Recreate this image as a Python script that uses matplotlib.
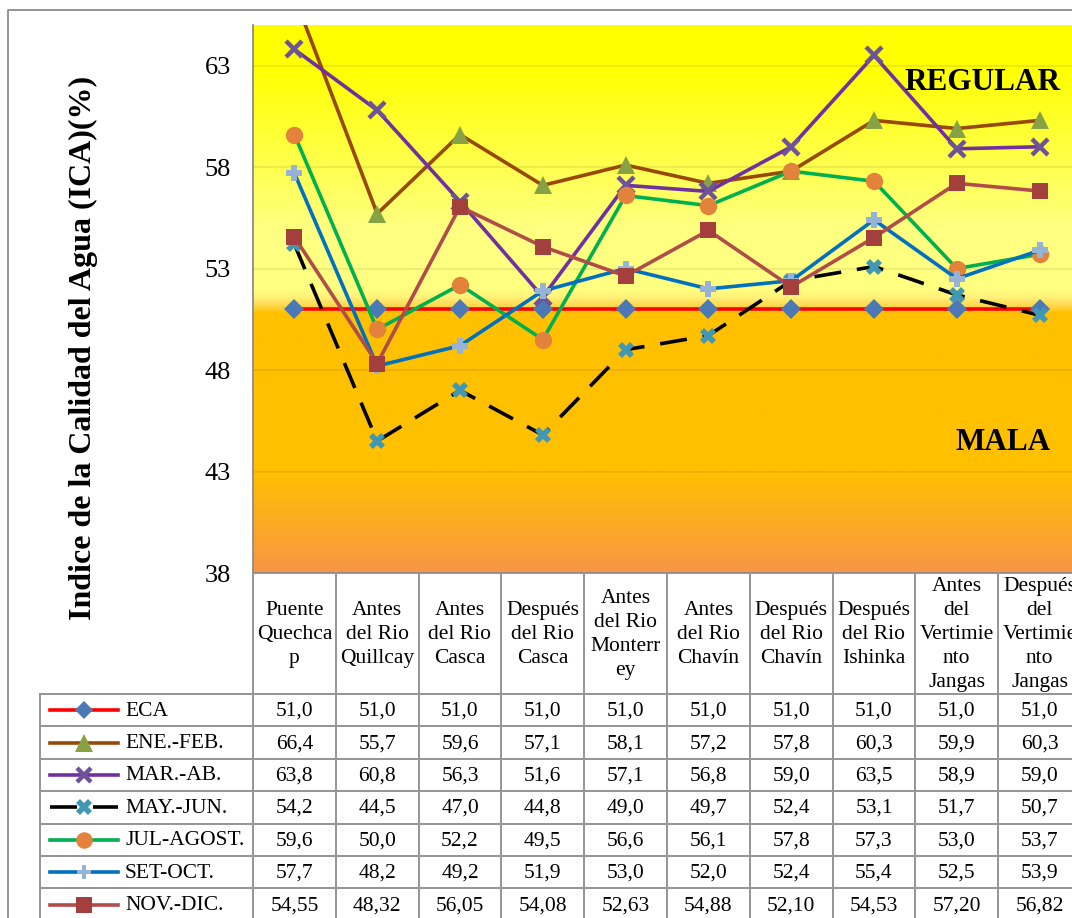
import matplotlib.pyplot as plt
import numpy as np
from matplotlib.colors import LinearSegmentedColormap, to_rgb
from matplotlib.lines import Line2D

# Puntos de muestreo a lo largo del rio
puntos = ['Puente\nQuechca\np', 'Antes\ndel Rio\nQuillcay', 'Antes\ndel Rio\nCasca',
          'Después\ndel Rio\nCasca', 'Antes\ndel Rio\nMonterr\ney', 'Antes\ndel Rio\nChavín',
          'Después\ndel Rio\nChavín', 'Después\ndel Rio\nIshinka',
          'Antes\ndel\nVertimie\nnto\nJangas', 'Después\ndel\nVertimie\nnto\nJangas']

series = ['ECA', 'ENE.-FEB.', 'MAR.-AB.', 'MAY.-JUN.', 'JUL-AGOST.', 'SET-OCT.', 'NOV.-DIC.']

eca = [51.0, 51.0, 51.0, 51.0, 51.0, 51.0, 51.0, 51.0, 51.0, 51.0]
ene_feb = [66.4, 55.7, 59.6, 57.1, 58.1, 57.2, 57.8, 60.3, 59.9, 60.3]
mar_ab = [63.8, 60.8, 56.3, 51.6, 57.1, 56.8, 59.0, 63.5, 58.9, 59.0]
may_jun = [54.2, 44.5, 47.0, 44.8, 49.0, 49.7, 52.4, 53.1, 51.7, 50.7]
jul_agost = [59.6, 50.0, 52.2, 49.5, 56.6, 56.1, 57.8, 57.3, 53.0, 53.7]
set_oct = [57.7, 48.2, 49.2, 51.9, 53.0, 52.0, 52.4, 55.4, 52.5, 53.9]
nov_dic = [54.55, 48.32, 56.05, 54.08, 52.63, 54.88, 52.10, 54.53, 57.20, 56.82]
decimales = [1, 1, 1, 1, 1, 1, 2]

valores = [eca, ene_feb, mar_ab, may_jun, jul_agost, set_oct, nov_dic]

# estilo de cada serie: color linea, marcador, color marcador, tamaño, grosor borde
estilos = [
    dict(color='#FF0000', marker='D', mfc='#4A79B5', mec='#4A79B5', ms=10, mew=0, ls='-'),
    dict(color='#984807', marker='^', mfc='#86A244', mec='#86A244', ms=13, mew=0, ls='-'),
    dict(color='#7030A0', marker='x', mfc='#6E5399', mec='#6E5399', ms=11, mew=3.2, ls='-'),
    dict(color='#000000', marker='X', mfc='#4198B5', mec='#4198B5', ms=12, mew=0, ls='--'),
    dict(color='#00B050', marker='o', mfc='#E3823A', mec='#E3823A', ms=12.5, mew=0, ls='-'),
    dict(color='#0070C0', marker='P', mfc='#95B3D7', mec='#95B3D7', ms=11, mew=0, ls='-'),
    dict(color='#B04C4A', marker='s', mfc='#A3403E', mec='#A3403E', ms=12, mew=0, ls='-'),
]

plt.rcParams['font.family'] = ['Liberation Serif', 'DejaVu Serif']

W, H = 1072, 918
fig = plt.figure(figsize=(W / 100, H / 100), dpi=100)

# area de grafico (en pixeles)
x0, x1, ytop, ybot = 253, 1081, 25, 573
ax = fig.add_axes([x0 / W, (H - ybot) / H, (x1 - x0) / W, (ybot - ytop) / H])
n = len(puntos)
xs = np.arange(n)
ymin, ymax = 38, 65
ax.set_xlim(-0.5, n - 0.5)
ax.set_ylim(ymin, ymax)

# fondo degradado: REGULAR (amarillo) sobre MALA (naranja)
stops = [(38, '#F79646'), (43, '#FFC000'), (50.8, '#FFC000'), (51.2, '#FFD850'),
         (51.6, '#FFF27A'), (52.0, '#FFFF80'), (55, '#FFFF80'), (63, '#FFFF00'), (65, '#FFFF00')]
cmap = LinearSegmentedColormap.from_list(
    'fondo', [((v - ymin) / (ymax - ymin), to_rgb(c)) for v, c in stops])
grad = np.linspace(0, 1, 600).reshape(-1, 1)
ax.imshow(grad, cmap=cmap, origin='lower', aspect='auto',
          extent=(-0.5, n - 0.5, ymin, ymax), zorder=0, interpolation='bilinear')

yt = [38, 43, 48, 53, 58, 63]
for y in yt[1:]:
    ax.axhline(y, color='black', alpha=0.09, lw=1.2, zorder=1)

for i, (vals, st) in enumerate(zip(valores, estilos)):
    ln, = ax.plot(xs, vals, color=st['color'], lw=2.6, ls=st['ls'], marker=st['marker'],
                  ms=st['ms'], mfc=st['mfc'], mec=st['mec'], mew=st['mew'], zorder=3 + i,
                  clip_on=True)
    if st['ls'] == '--':
        ln.set_dashes((7.5, 4.4))

ax.text(7.37, 61.8, 'REGULAR', fontsize=22.5, fontweight='bold', ha='left', va='baseline', zorder=20)
ax.text(7.98, 44.06, 'MALA', fontsize=22.5, fontweight='bold', ha='left', va='baseline', zorder=20)

ax.set_yticks(yt)
ax.set_yticklabels([str(v) for v in yt], fontsize=19)
ax.tick_params(axis='y', length=0, pad=16)
ax.set_xticks([])
for s in ['top', 'right']:
    ax.spines[s].set_visible(False)
for s in ['left', 'bottom']:
    ax.spines[s].set_color('#8C8C8C')
    ax.spines[s].set_linewidth(1.3)

# capa superior en pixeles para la tabla de datos
ov = fig.add_axes([0, 0, 1, 1], zorder=5)
ov.set_xlim(0, W)
ov.set_ylim(H, 0)
ov.axis('off')
ov.patch.set_alpha(0)

gris = '#959595'
colw = (x1 - x0) / n
col_edges = [x0 + colw * i for i in range(n + 1)]
hdr_bot = 694
rowh = 32.4
row_edges = [hdr_bot + rowh * r for r in range(len(series) + 1)]
leg_left = 40
fs_tab = 15.5

# borde exterior
ov.plot([8, 8, W + 5], [H + 5, 10, 10], color='#8C8C8C', lw=1.3)

# lineas de la tabla
for xe in col_edges:
    ov.plot([xe, xe], [ybot, H + 5], color=gris, lw=1.4)
ov.plot([leg_left, leg_left], [hdr_bot, H + 5], color=gris, lw=1.4)
for ye in row_edges:
    ov.plot([leg_left, W + 5], [ye, ye], color=gris, lw=1.4)

# encabezados
for j, p in enumerate(puntos):
    ov.text(col_edges[j] + colw / 2, (ybot + hdr_bot) / 2 + 1, p, fontsize=fs_tab,
            ha='center', va='center', multialignment='center', linespacing=1.37)

# filas: leyenda + valores
for r, (nombre, vals, st, nd) in enumerate(zip(series, valores, estilos, decimales)):
    yc = row_edges[r] + rowh / 2
    key = Line2D([50, 118], [yc, yc], color=st['color'], lw=2.6, ls=st['ls'])
    if st['ls'] == '--':
        key.set_dashes((7.5, 4.4))
    ov.add_line(key)
    ov.plot([84], [yc], marker=st['marker'], ms=st['ms'] * 0.95, mfc=st['mfc'],
            mec=st['mec'], mew=st['mew'], ls='none')
    ov.text(125, yc + 1, nombre, fontsize=fs_tab, ha='left', va='center')
    for j, v in enumerate(vals):
        txt = f'{v:.{nd}f}'.replace('.', ',')
        ov.text(col_edges[j] + colw / 2, yc + 1, txt, fontsize=fs_tab, ha='center', va='center')

# titulo del eje
ov.text(83, 348, 'Indice de la Calidad del Agua (ICA)(%)', fontsize=23, fontweight='bold',
        rotation=90, ha='center', va='center')

fig.savefig('out.png', dpi=100)
